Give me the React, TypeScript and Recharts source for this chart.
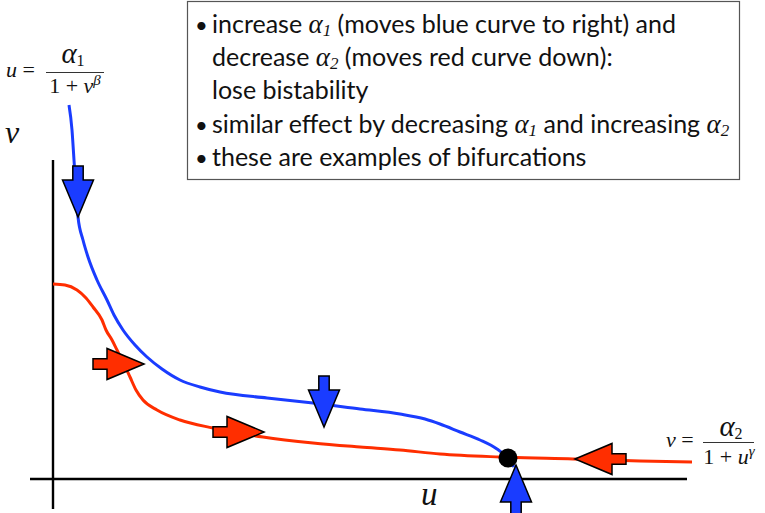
import React from 'react';
import { ComposedChart, Line, Scatter, XAxis, YAxis, Customized } from 'recharts';

// ---- data (u, v phase plane) ----
const blueU = [0.32, 0.38, 0.42, 0.46, 0.5, 0.6, 0.7, 0.88, 1.08, 1.22, 1.4, 1.64, 1.88, 2.18, 2.54, 2.94, 3.34, 4.28, 5.2, 6.14, 6.94, 7.44, 7.74, 8.14, 8.54, 8.88, 9.08, 9.22];
const blueV = [7.48, 6.98, 6.38, 5.78, 5.24, 4.78, 4.44, 3.98, 3.58, 3.28, 2.98, 2.68, 2.44, 2.2, 1.98, 1.84, 1.74, 1.62, 1.52, 1.4, 1.3, 1.2, 1.1, 0.94, 0.78, 0.6, 0.44, 0.24];

const redU = [0, 0.24, 0.48, 0.66, 0.8, 0.98, 1.06, 1.18, 1.28, 1.42, 1.54, 1.66, 1.8, 2.08, 2.54, 3.2, 4.2, 5.2, 6.14, 6.94, 7.74, 8.94, 10.4, 11.74, 12.78];
const redV = [3.9, 3.88, 3.78, 3.62, 3.44, 3.18, 2.98, 2.78, 2.58, 2.3, 2.04, 1.78, 1.58, 1.38, 1.18, 1.02, 0.84, 0.72, 0.64, 0.58, 0.5, 0.44, 0.4, 0.36, 0.34];

const uAxisU = [-0.46, 12.68];
const uAxisV = [0, 0];
const vAxisU = [0, 0];
const vAxisV = [-0.6, 6.38];

const arrowU = [0.5, 5.42, 9.26, 1.82, 4.22, 10.44];
const arrowV = [5.24, 1.04, 0.28, 2.3, 0.94, 0.4];
const arrowDir = ['down', 'down', 'up', 'right', 'right', 'left'];
const arrowCurve = ['blue', 'blue', 'blue', 'red', 'red', 'red'];

const fixedU = [9.1];
const fixedV = [0.42];

const U_DOMAIN: [number, number] = [-1.06, 14.24];
const V_DOMAIN: [number, number] = [-0.68, 9.58];

// ---- tables built from arrays ----
const zip = (us: number[], vs: number[]) => us.map((u, i) => ({ u, v: vs[i] }));
const blueData = zip(blueU, blueV);
const redData = zip(redU, redV);
const uAxisData = zip(uAxisU, uAxisV);
const vAxisData = zip(vAxisU, vAxisV);
const arrowData = arrowU.map((u, i) => ({ u, v: arrowV[i], dir: arrowDir[i], curve: arrowCurve[i] }));
const fixedData = zip(fixedU, fixedV);

const BLUE = '#1a3cff';
const RED = '#ff2e00';
const sans = 'Lato, "Open Sans", sans-serif';
const serif = '"Liberation Serif", "DejaVu Serif", serif';

const ArrowShape = (props: any) => {
  const { cx, cy, payload } = props;
  if (cx == null || cy == null) return null;
  const dir = payload.dir;
  const [dx, dy] = dir === 'down' ? [0, 1] : dir === 'up' ? [0, -1] : dir === 'right' ? [1, 0] : [-1, 0];
  const px = -dy, py = dx;
  const head = 37, total = 51, hw = 15.5, sw = 5.2;
  const pt = (a: number, b: number) => `${cx - dx * a + px * b},${cy - dy * a + py * b}`;
  const pts = [pt(0, 0), pt(head, hw), pt(head, sw), pt(total, sw), pt(total, -sw), pt(head, -sw), pt(head, -hw)].join(' ');
  return <polygon points={pts} fill={payload.curve === 'blue' ? BLUE : RED} stroke="#000" strokeWidth={1.5} />;
};

const DotShape = (props: any) => {
  const { cx, cy } = props;
  if (cx == null || cy == null) return null;
  return <circle cx={cx} cy={cy} r={9.5} fill="#000" />;
};

type Seg = { t?: string; a?: string };
const boxLines: { bullet: boolean; segs: Seg[] }[] = [
  { bullet: true, segs: [{ t: 'increase ' }, { a: '1' }, { t: ' (moves blue curve to right) and' }] },
  { bullet: false, segs: [{ t: 'decrease ' }, { a: '2' }, { t: ' (moves red curve down):' }] },
  { bullet: false, segs: [{ t: 'lose bistability' }] },
  { bullet: true, segs: [{ t: 'similar effect by decreasing ' }, { a: '1' }, { t: ' and increasing ' }, { a: '2' }] },
  { bullet: true, segs: [{ t: 'these are examples of bifurcations' }] },
];

function renderSegs(segs: Seg[]) {
  const out: any[] = [];
  let pending = 0;
  segs.forEach((s, i) => {
    if (s.a) {
      out.push(<tspan key={i + 'a'} fontFamily={serif} fontStyle="italic" fontSize={27} dy={pending}>α</tspan>);
      out.push(<tspan key={i + 's'} fontFamily={serif} fontStyle="italic" fontSize={17} dy={3}>{s.a}</tspan>);
      pending = -3;
    } else {
      out.push(<tspan key={i + 't'} dy={pending}>{s.t}</tspan>);
      pending = 0;
    }
  });
  return out;
}

const Annotations = () => {
  const baselines = [33, 66, 99, 133, 166];
  return (
    <g>
      <rect x={187.5} y={1.5} width={552} height={178} fill="#fff" stroke="#555" strokeWidth={1.2} />
      {boxLines.map((ln, i) => (
        <g key={i}>
          {ln.bullet && (
            <text x={195} y={baselines[i]} fontFamily={sans} fontSize={22} fill="#111">•</text>
          )}
          <text x={212} y={baselines[i]} fontFamily={sans} fontSize={25} fill="#111">
            {renderSegs(ln.segs)}
          </text>
        </g>
      ))}
      {/* left nullcline formula */}
      <text x={6} y={77} fontFamily={serif} fontSize={22} fill="#111">
        <tspan fontStyle="italic">u</tspan> =
      </text>
      <line x1={46} x2={104} y1={72.5} y2={72.5} stroke="#333" strokeWidth={1} />
      <text x={73} y={63} fontFamily={serif} fontSize={22} fill="#111" textAnchor="middle">
        <tspan fontStyle="italic" fontSize={29}>α</tspan><tspan fontSize={16} dy={3}>1</tspan>
      </text>
      <text x={75} y={93} fontFamily={serif} fontSize={22} fill="#111" textAnchor="middle">
        1 + <tspan fontStyle="italic">v</tspan><tspan fontStyle="italic" fontSize={15} dy={-8}>β</tspan>
      </text>
      {/* right nullcline formula */}
      <text x={666} y={447} fontFamily={serif} fontSize={22} fill="#111">
        <tspan fontStyle="italic">v</tspan> =
      </text>
      <line x1={703} x2={754} y1={442.5} y2={442.5} stroke="#333" strokeWidth={1} />
      <text x={731} y={436} fontFamily={serif} fontSize={22} fill="#111" textAnchor="middle">
        <tspan fontStyle="italic" fontSize={29}>α</tspan><tspan fontSize={16} dy={3}>2</tspan>
      </text>
      <text x={729} y={464} fontFamily={serif} fontSize={22} fill="#111" textAnchor="middle">
        1 + <tspan fontStyle="italic">u</tspan><tspan fontStyle="italic" fontSize={15} dy={-8}>γ</tspan>
      </text>
      {/* axis labels */}
      <text x={5} y={143} fontFamily={serif} fontStyle="italic" fontSize={32} fill="#111">v</text>
      <text x={421} y={505} fontFamily={serif} fontStyle="italic" fontSize={33} fill="#111">u</text>
    </g>
  );
};

export default function App() {
  return (
    <div style={{ position: 'absolute', left: 0, top: 0, width: 765, height: 513, background: '#fff' }}>
      <ComposedChart width={765} height={513} margin={{ top: 0, right: 0, bottom: 0, left: 0 }}>
        <XAxis type="number" dataKey="u" domain={U_DOMAIN} allowDataOverflow hide />
        <YAxis type="number" dataKey="v" domain={V_DOMAIN} allowDataOverflow hide />
        <Line data={uAxisData} dataKey="v" type="linear" stroke="#000" strokeWidth={2.6} dot={false} activeDot={false} legendType="none" isAnimationActive={false} />
        <Line data={vAxisData} dataKey="v" type="linear" stroke="#000" strokeWidth={2.4} dot={false} activeDot={false} legendType="none" isAnimationActive={false} />
        <Line data={redData} dataKey="v" type="monotone" stroke={RED} strokeWidth={3} dot={false} activeDot={false} legendType="none" isAnimationActive={false} />
        <Line data={blueData} dataKey="v" type="monotone" stroke={BLUE} strokeWidth={3} dot={false} activeDot={false} legendType="none" isAnimationActive={false} />
        <Scatter data={arrowData} shape={ArrowShape} isAnimationActive={false} />
        <Scatter data={fixedData} shape={DotShape} isAnimationActive={false} />
        <Customized component={<Annotations />} />
      </ComposedChart>
    </div>
  );
}
